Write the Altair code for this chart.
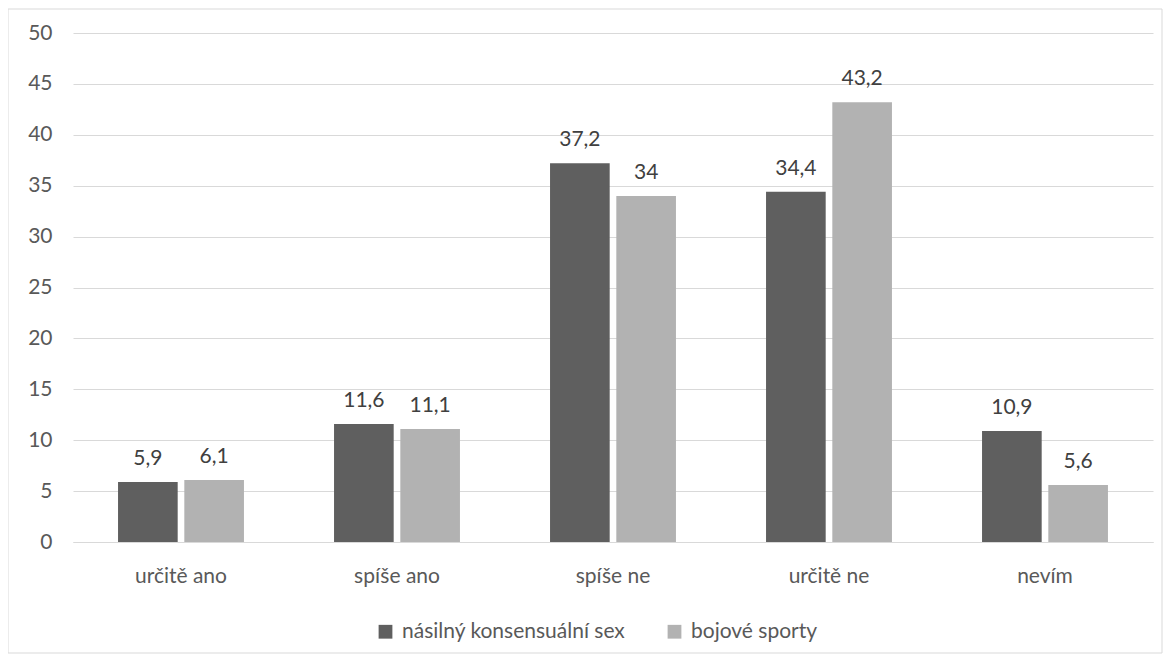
import altair as alt
import pandas as pd

categories = ["určitě ano", "spíše ano", "spíše ne", "určitě ne", "nevím"]
series = ["násilný konsensuální sex", "bojové sporty"]
values_sex = [5.9, 11.6, 37.2, 34.4, 10.9]
values_sport = [6.1, 11.1, 34.0, 43.2, 5.6]
colors = ["#5f5f5f", "#b2b2b2"]
y_ticks = list(range(0, 55, 5))

rows = []
for c, a, b in zip(categories, values_sex, values_sport):
    for s, v in ((series[0], a), (series[1], b)):
        rows.append({"cat": c, "series": s, "value": v,
                     "label": f"{v:g}".replace(".", ",")})
df = pd.DataFrame(rows)

FONT = "Lato"
FS = 21
W, H = 1080, 509

x_enc = alt.X("cat:N", sort=categories, title=None,
              scale=alt.Scale(paddingInner=0.417, paddingOuter=0.2085),
              axis=alt.Axis(labelAngle=0, ticks=False, domainColor="#d9d9d9",
                            labelPadding=23, labelFontSize=FS, labelColor="#595959",
                            labelFont=FONT))
xoff = alt.XOffset("series:N", sort=series,
                   scale=alt.Scale(paddingInner=0.1, paddingOuter=0))
y_enc = alt.Y("value:Q", title=None,
              scale=alt.Scale(domain=[0, 50], nice=False),
              axis=alt.Axis(values=y_ticks, domain=False, ticks=False,
                            gridColor="#d9d9d9", labelPadding=21, labelFontSize=FS,
                            labelColor="#595959", labelFont=FONT))

base = alt.Chart(df)
bars = base.mark_bar().encode(
    x=x_enc, xOffset=xoff, y=y_enc,
    color=alt.Color("series:N", sort=series,
                    scale=alt.Scale(domain=series, range=colors),
                    legend=alt.Legend(title=None, orient="none", direction="horizontal",
                                      legendX=302, legendY=588, symbolType="square",
                                      symbolSize=190, labelFontSize=FS, labelFont=FONT,
                                      labelColor="#595959", columnPadding=38,
                                      labelOffset=6, labelLimit=0,
                                      symbolStrokeWidth=0)),
)
labels = base.mark_text(baseline="alphabetic", dy=-17, fontSize=FS, font=FONT,
                        color="#404040").encode(
    x=alt.X("cat:N", sort=categories), xOffset=alt.XOffset("series:N", sort=series),
    y="value:Q", text="label:N")

border = alt.Chart(alt.Data(values=[{}])).mark_rect(
    fill=None, stroke="#d9d9d9", strokeWidth=1).encode(
    x=alt.value(-65), x2=alt.value(1089), y=alt.value(-24), y2=alt.value(620))

chart = alt.layer(border, bars, labels).properties(
    width=W, height=H,
    autosize=alt.AutoSizeParams(type="none"),
    padding={"left": 65, "top": 25, "right": 10, "bottom": 112},
).configure_view(stroke=None)

chart.save("out.html", embed_options={"renderer": "svg", "actions": False})
